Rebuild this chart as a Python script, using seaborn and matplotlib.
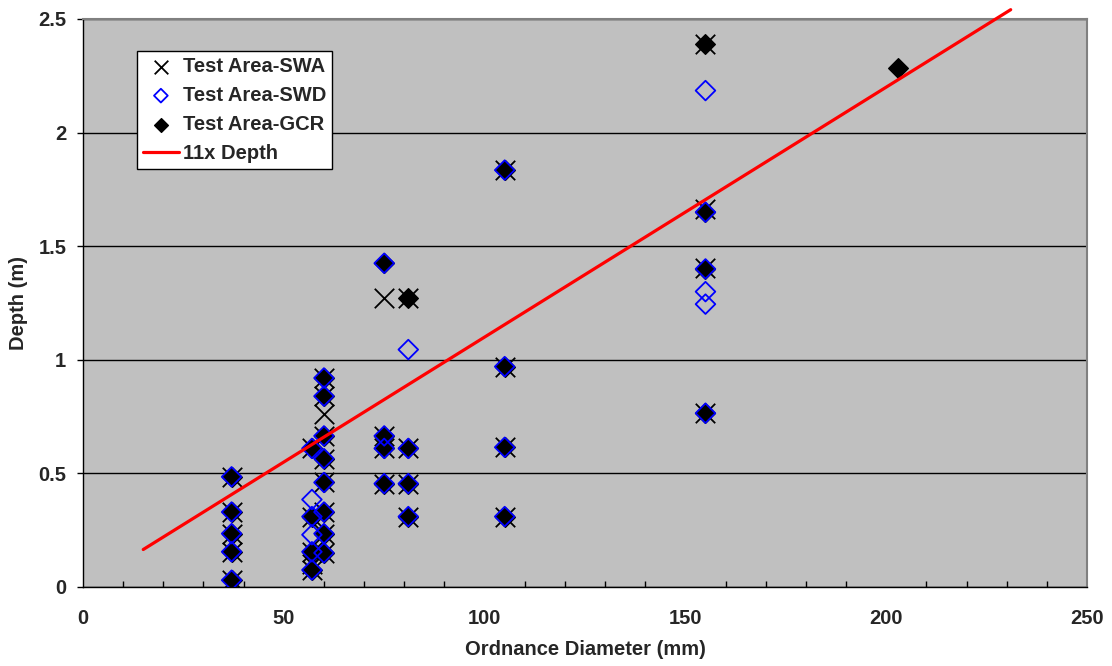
import matplotlib
matplotlib.use("Agg")
import matplotlib.pyplot as plt
import seaborn as sns
import numpy as np
from matplotlib.ticker import MultipleLocator

# ---------------- data ----------------
swa_x = [37, 37, 37, 37, 37,
         57, 57, 57, 57, 57,
         60, 60, 60, 60, 60, 60, 60, 60, 60,
         75, 75, 75, 75,
         81, 81, 81, 81,
         105, 105, 105, 105,
         155, 155, 155, 155]
swa_y = [0.485, 0.33, 0.235, 0.155, 0.03,
         0.61, 0.31, 0.155, 0.10, 0.075,
         0.92, 0.84, 0.76, 0.665, 0.565, 0.46, 0.33, 0.235, 0.15,
         1.27, 0.665, 0.61, 0.455,
         1.27, 0.61, 0.455, 0.31,
         1.835, 0.97, 0.615, 0.31,
         2.39, 1.665, 1.405, 0.765]

swd_x = [37, 37, 37, 37, 37,
         57, 57, 57, 57, 57, 57,
         60, 60, 60, 60, 60, 60, 60, 60,
         75, 75, 75, 75,
         81, 81, 81, 81,
         105, 105, 105, 105,
         155, 155, 155, 155, 155, 155]
swd_y = [0.485, 0.33, 0.235, 0.155, 0.03,
         0.61, 0.385, 0.31, 0.23, 0.155, 0.075,
         0.92, 0.84, 0.665, 0.565, 0.46, 0.33, 0.235, 0.15,
         1.425, 0.665, 0.61, 0.455,
         1.045, 0.61, 0.455, 0.31,
         1.835, 0.97, 0.615, 0.31,
         2.185, 1.65, 1.40, 1.30, 1.245, 0.765]

gcr_x = [37, 37, 37, 37, 37,
         57, 57, 57, 57,
         60, 60, 60, 60, 60, 60, 60, 60,
         75, 75, 75, 75,
         81, 81, 81, 81,
         105, 105, 105, 105,
         155, 155, 155, 155,
         203]
gcr_y = [0.485, 0.33, 0.235, 0.155, 0.03,
         0.61, 0.31, 0.155, 0.075,
         0.92, 0.84, 0.665, 0.565, 0.46, 0.33, 0.235, 0.15,
         1.425, 0.665, 0.61, 0.455,
         1.27, 0.61, 0.455, 0.31,
         1.835, 0.97, 0.615, 0.31,
         2.39, 1.65, 1.40, 0.765,
         2.285]

line_x = [15, 231]
line_y = [0.165, 2.541]

labels = ["Test Area-SWA", "Test Area-SWD", "Test Area-GCR", "11x Depth"]
x_ticks = [0, 50, 100, 150, 200, 250]
y_ticks = [0, 0.5, 1, 1.5, 2, 2.5]

# ---------------- style ----------------
sns.set_style("white", {"axes.facecolor": "#C0C0C0"})
plt.rcParams["font.family"] = ["Liberation Sans", "DejaVu Sans"]
plt.rcParams["font.weight"] = "bold"
FS = 14.5

fig = plt.figure(figsize=(11.12, 6.66), dpi=100)
ax = fig.add_axes([83 / 1112, 79 / 666, 1004 / 1112, 568 / 666])
ax.set_facecolor("#C0C0C0")

sns.scatterplot(x=swa_x, y=swa_y, marker="x", s=14 ** 2, color="black",
                linewidth=1.3, ax=ax, zorder=3, label=labels[0], legend=False)
sns.scatterplot(x=gcr_x, y=gcr_y, marker="D", s=10 ** 2, color="black",
                edgecolor="black", linewidth=1.0, ax=ax, zorder=4,
                label=labels[2], legend=False)
sns.scatterplot(x=swd_x, y=swd_y, marker="D", s=10 ** 2, color="blue",
                facecolor="none", edgecolor="#0000FF", linewidth=1.3, ax=ax,
                zorder=5, label=labels[1], legend=False)
sns.lineplot(x=line_x, y=line_y, color="#FF0000", linewidth=2.3, ax=ax,
             zorder=6, label=labels[3], legend=False, clip_on=False)

ax.set_xlim(0, 250)
ax.set_ylim(0, 2.5)
ax.set_xticks(x_ticks)
ax.set_yticks(y_ticks)
ax.set_xticklabels([str(v) for v in x_ticks])
ax.set_yticklabels([f"{v:g}" for v in y_ticks])
ax.xaxis.set_minor_locator(MultipleLocator(10))

ax.yaxis.grid(True, color="black", linewidth=1.0)
ax.set_axisbelow(True)
for side in ["top", "right"]:
    ax.spines[side].set_color("#808080")
    ax.spines[side].set_linewidth(1.5)
for side in ["left", "bottom"]:
    ax.spines[side].set_color("black")
    ax.spines[side].set_linewidth(1.0)

ax.tick_params(axis="x", which="major", direction="inout", length=7,
               width=1, color="black", labelsize=FS, pad=12)
ax.tick_params(axis="x", which="minor", direction="in", length=4,
               width=1, color="black", bottom=True)
ax.tick_params(axis="y", which="major", direction="out", length=4,
               width=1, color="black", labelsize=FS, pad=8, left=True)
for lab in ax.get_xticklabels() + ax.get_yticklabels():
    lab.set_fontweight("bold")

ax.set_xlabel("Ordnance Diameter (mm)", fontsize=FS, fontweight="bold",
              labelpad=9)
ax.set_ylabel("Depth (m)", fontsize=FS, fontweight="bold", labelpad=7)

handles, labs = ax.get_legend_handles_labels()
hmap = dict(zip(labs, handles))
leg = ax.legend([hmap[l] for l in labels], labels, loc="upper left",
                bbox_to_anchor=(0.0535, 0.944), borderaxespad=0,
                frameon=True, fancybox=False, facecolor="white",
                edgecolor="black", framealpha=1,
                prop={"size": FS, "weight": "bold"},
                handlelength=1.8, handletextpad=0.2, labelspacing=0.5,
                borderpad=0.3, markerscale=0.7)
leg.get_frame().set_linewidth(1.0)
leg.set_zorder(10)

fig.savefig("out.png", dpi=100, facecolor="white")
